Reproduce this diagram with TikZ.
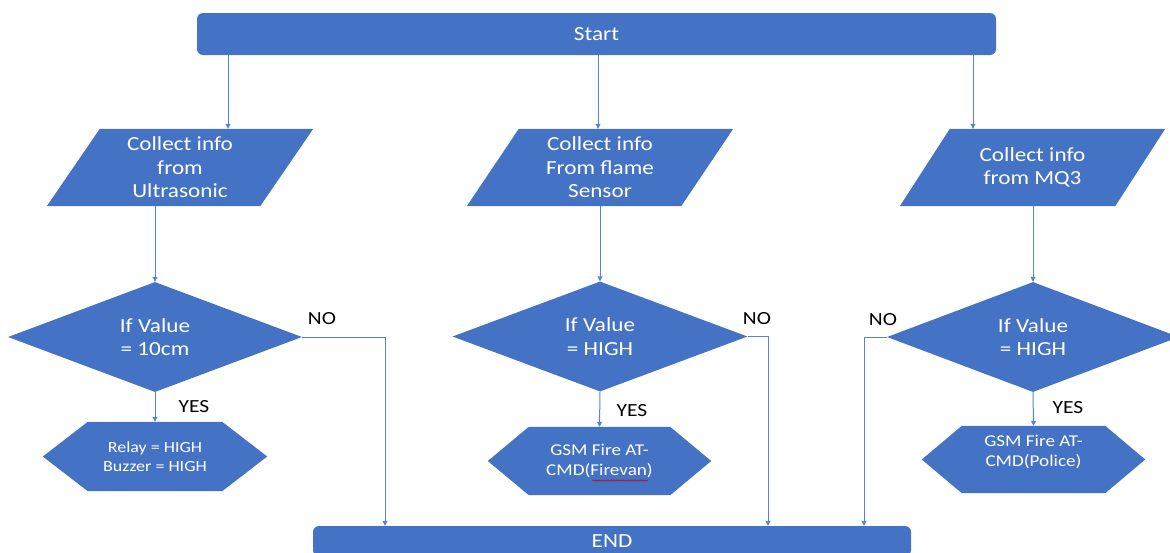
\documentclass[tikz,border=0pt]{standalone}
\usepackage{fontspec}
\setmainfont{Carlito}[FakeStretch=1.16]
\usetikzlibrary{shapes.geometric,arrows.meta,calc,backgrounds,decorations.pathmorphing}
\definecolor{cblue}{HTML}{4472C4}
\definecolor{lblue}{HTML}{5585D5}
\begin{document}
\begin{tikzpicture}[x=1pt,y=-1pt,
  txt/.style={text=white, align=center, inner sep=0pt, font=\fontsize{20}{23.5}\selectfont},
  startbox/.style={txt, fill=cblue, rounded corners=6pt, minimum width=799pt, minimum height=42pt},
  endbox/.style={txt, fill=cblue, rounded corners=6pt, minimum width=598pt, minimum height=30pt},
  parabox/.style={txt, minimum width=266pt, minimum height=77pt},
  dia/.style={txt, shape=diamond, fill=cblue, aspect=2.67, minimum width=294pt, minimum height=110pt},
  hexbox/.style={txt, font=\fontsize{16.5}{20}\selectfont},
  lbl/.style={text=black, inner sep=0pt, font=\fontsize{18.5}{20}\selectfont},
  arr/.style={draw=lblue, line width=1pt, -{Triangle[length=5pt,width=5pt]}}
]
\useasboundingbox (0,0) rectangle (1170,552);
\clip (0,0) rectangle (1170,552);

\node[startbox] (start) at (596.5,34) {Start};

\node[parabox] (p1) at (180,167.5) {Collect info\\from\\Ultrasonic};
\node[parabox] (p2) at (600,167.5) {Collect info\\From flame\\Sensor};
\node[parabox, minimum width=265pt] (p3) at (1032.5,167.5) {Collect info\\from MQ3};

\node[dia] (d1) at (155,337) {If Value\\= 10cm};
\node[dia, minimum width=295pt] (d2) at (600,336.5) {If Value\\= HIGH};
\node[dia, minimum width=292pt] (d3) at (1033,337) {If Value\\= HIGH};

\node[hexbox, minimum width=224pt, minimum height=69pt, font=\fontsize{15.5}{19}\selectfont] (h1) at (155,456.5) {Relay = HIGH\\Buzzer = HIGH};
\node[hexbox, minimum width=223pt, minimum height=68pt] (h2) at (599.5,461) {GSM Fire AT-\\CMD(Firevan)};
\node[hexbox, minimum width=223pt, minimum height=67pt] (h3) at (1033.5,459.5) {};
\node[hexbox] (h3t) at (1033.5,451.5) {GSM Fire AT-\\CMD(Police)};

\node[endbox] (endb) at (612,541) {END};

\begin{pgfonlayer}{background}
\fill[white] (0,0) rectangle (1170,552);
\foreach \n/\s in {p1/53,p2/52,p3/50}
  \fill[cblue] (\n.south west) -- ($(\n.north west)+(\s,0)$) -- (\n.north east) -- ($(\n.south east)-(\s,0)$) -- cycle;
\foreach \n/\s in {h1/45,h2/41,h3/40}
  \fill[cblue] (\n.west) -- ($(\n.north west)+(\s,0)$) -- ($(\n.north east)-(\s,0)$) -- (\n.east) -- ($(\n.south east)-(\s,0)$) -- ($(\n.south west)+(\s,0)$) -- cycle;
\end{pgfonlayer}

% red spell-check squiggle
\draw[red!80!black, line width=0.6pt, decorate, decoration={snake, amplitude=0.7pt, segment length=3pt}] (592,480.5) -- (648,480.5);

\coordinate (a1) at (228,0);
\coordinate (a2) at (598,0);
\coordinate (a3) at (973,0);
\draw[arr] (start.south -| a1) -- (p1.north -| a1);
\draw[arr] (start.south -| a2) -- (p2.north -| a2);
\draw[arr] (start.south -| a3) -- (p3.north -| a3);

\draw[arr] (p1.south -| d1.north) -- (d1.north);
\draw[arr] (p2.south -| d2.north) -- (d2.north);
\draw[arr] (p3.south -| d3.north) -- (d3.north);

\draw[arr] (d1.south) -- (h1.north);
\draw[arr] (d2.south) -- (h2.north);
\draw[arr] (d3.south) -- (h3.north);

\coordinate (n1) at (385,0);
\coordinate (n2) at (768,0);
\coordinate (n3) at (864,0);
\draw[arr] (d1.east) -| (endb.north -| n1);
\draw[arr] (d2.east) -| (endb.north -| n2);
\draw[arr] (d3.west) -| (endb.north -| n3);

\node[lbl] (no1) at (322,319) {NO};
\node[lbl] (no2) at (757,319) {NO};
\node[lbl] (no3) at (883,320) {NO};
\node[lbl] (yes1) at (194,407) {YES};
\node[lbl] (yes2) at (632,411) {YES};
\node[lbl] (yes3) at (1068,408) {YES};
\end{tikzpicture}
\end{document}
